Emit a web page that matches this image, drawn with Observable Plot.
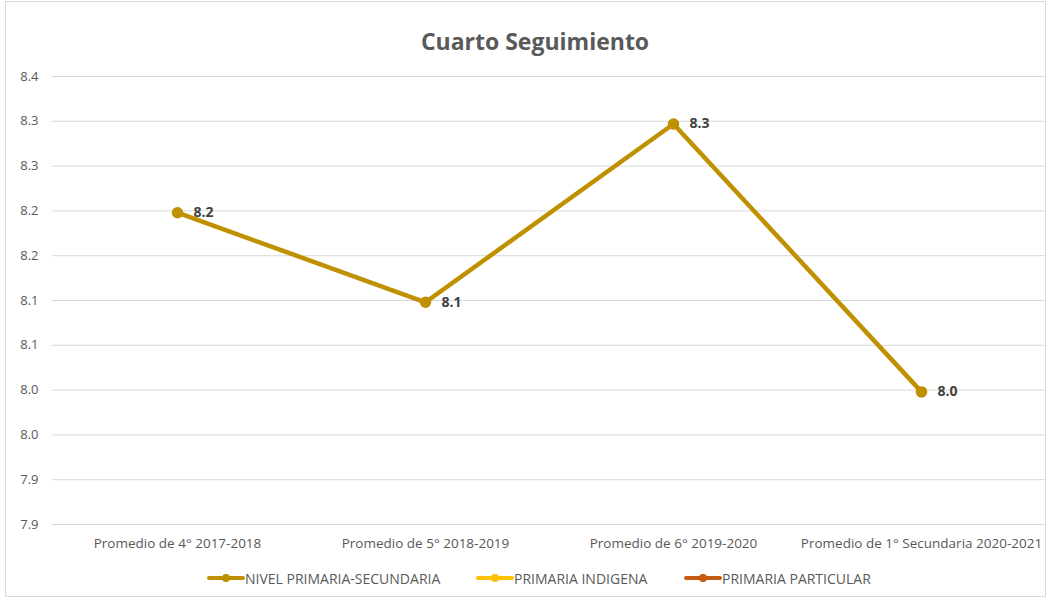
<!DOCTYPE html>
<html>
<head>
<meta charset="utf-8">
<script src="https://cdn.jsdelivr.net/npm/d3@7"></script>
<script src="https://cdn.jsdelivr.net/npm/@observablehq/plot@0.6"></script>
<style>
  html, body { margin: 0; padding: 0; background: #fff; }
  body { width: 1050px; height: 601px; position: relative; overflow: hidden; font-family: "Open Sans", sans-serif; }
  #frame { position: absolute; left: 5px; top: 1px; width: 1041px; height: 596px; border: 1px solid #d9d9d9; box-sizing: border-box; }
  #title { position: absolute; left: 0; top: 26px; width: 1070px; text-align: center; font-size: 23px; line-height: 30px; font-weight: bold; color: #595959; }
  #plot { position: absolute; left: 0; top: 60px; }
  #legend { position: absolute; top: 569px; left: 0; width: 1050px; height: 18px; font-size: 14px; color: #595959; }
  .item { position: absolute; top: 0; display: flex; align-items: center; height: 18px; }
  .item svg { display: block; }
</style>
</head>
<body>
<div id="frame"></div>
<div id="title">Cuarto Seguimiento</div>
<div id="plot"></div>
<div id="legend"></div>
<script>
const categories = ["Promedio de 4° 2017-2018", "Promedio de 5° 2018-2019", "Promedio de 6° 2019-2020", "Promedio de 1° Secundaria 2020-2021"];
const nivelValues = [8.248, 8.148, 8.347, 8.048];
const valueLabels = ["8.2", "8.1", "8.3", "8.0"];
const yTicks = [7.9, 7.95, 8.0, 8.05, 8.1, 8.15, 8.2, 8.25, 8.3, 8.35, 8.4];
const yTickLabels = ["7.9", "7.9", "8.0", "8.0", "8.1", "8.1", "8.2", "8.2", "8.3", "8.3", "8.4"];
const seriesNames = ["NIVEL PRIMARIA-SECUNDARIA", "PRIMARIA INDIGENA", "PRIMARIA PARTICULAR"];
const seriesColors = ["#BF9000", "#FFC000", "#C55A11"];

const data = categories.map((c, i) => ({cat: c, v: nivelValues[i], label: valueLabels[i]}));

const chart = Plot.plot({
  width: 1050,
  height: 500,
  marginTop: 16,
  marginBottom: 36,
  marginLeft: 52,
  marginRight: 5,
  style: {fontFamily: '"Open Sans", sans-serif', fontSize: "13px", color: "#595959", background: "transparent"},
  x: {type: "point", domain: categories, padding: 0.5, label: null},
  y: {domain: [7.9, 8.4], label: null},
  marks: [
    Plot.gridY(yTicks, {stroke: "#d9d9d9", strokeOpacity: 1, strokeWidth: 1}),
    Plot.axisY(yTicks, {tickSize: 0, tickPadding: 14, tickFormat: (d, i) => yTickLabels[i], label: null, fontSize: 13}),
    Plot.axisX({tickSize: 0, tickPadding: 14, label: null, fontSize: 13.5}),
    Plot.line(data, {x: "cat", y: "v", stroke: seriesColors[0], strokeWidth: 4.5, strokeLinejoin: "round", strokeLinecap: "round", style: "filter: drop-shadow(1px 2px 1.5px rgba(0,0,0,0.35))"}),
    Plot.dot(data, {x: "cat", y: "v", r: 5, fill: seriesColors[0], stroke: seriesColors[0]}),
    Plot.text(data, {x: "cat", y: "v", text: "label", dx: 16, textAnchor: "start", fontWeight: "bold", fontSize: 14, fill: "#404040"})
  ]
});
document.getElementById("plot").appendChild(chart);

const legend = document.getElementById("legend");
const positions = [207, 476, 684];
seriesNames.forEach((name, i) => {
  const item = document.createElement("div");
  item.className = "item";
  item.style.left = positions[i] + "px";
  item.innerHTML = `<svg width="38" height="18"><line x1="2" x2="36" y1="9" y2="9" stroke="${seriesColors[i]}" stroke-width="4" stroke-linecap="round"/><circle cx="19" cy="9" r="4" fill="${seriesColors[i]}"/></svg><span>${name}</span>`;
  legend.appendChild(item);
});
</script>
</body>
</html>
